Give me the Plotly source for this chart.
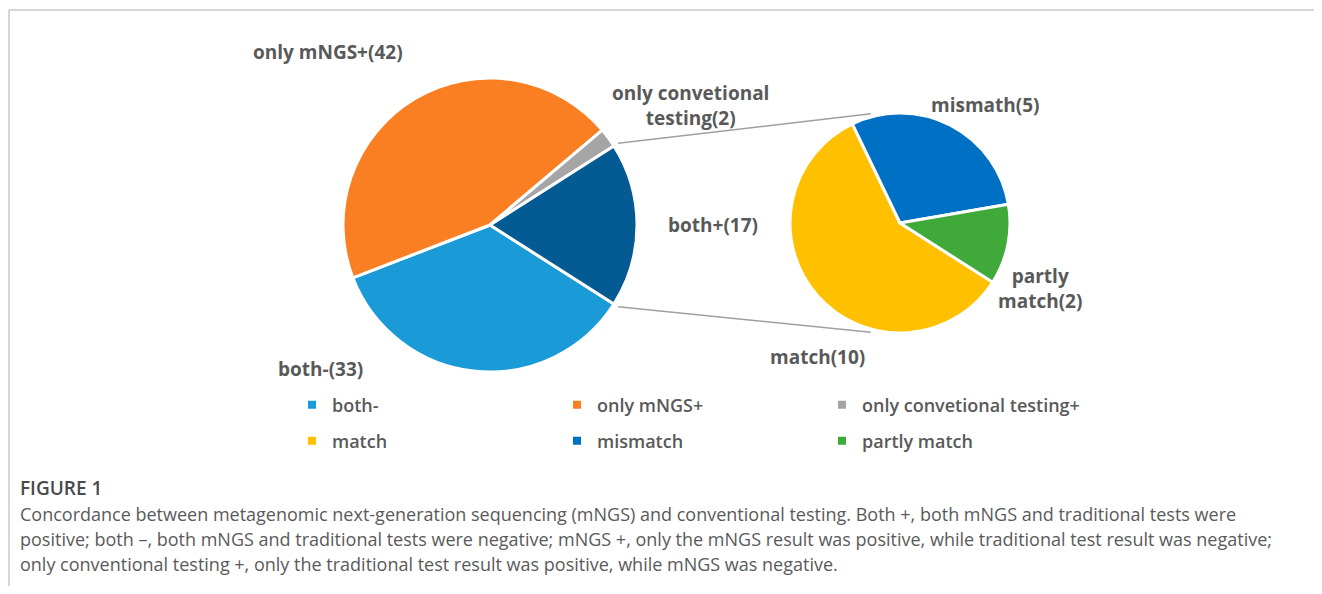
import math
import plotly.graph_objects as go

# page body has an 8px margin, so the figure is made smaller and coordinates
# are given in screenshot pixels, then shifted
OFF = 8
W, H = 1322 - 2 * OFF, 594 - 2 * OFF

# main pie
main_labels = ['both-', 'only mNGS+', 'only convetional testing+', 'both+']
main_values = [33, 42, 2, 17]
main_text = ['both-(33)', 'only mNGS+(42)', 'only convetional<br>testing(2)', 'both+(17)']
main_colors = ['#1A9BD7', '#FA7F22', '#A5A5A5', '#045A92']

# secondary pie (breakdown of both+)
sub_labels = ['match', 'mismatch', 'partly match']
sub_values = [10, 5, 2]
sub_text = ['match(10)', 'mismath(5)', 'partly<br>match(2)']
sub_colors = ['#FFC000', '#0070C4', '#3FAA3A']

caption_title = 'FIGURE 1'
caption_lines = [
    'Concordance between metagenomic next-generation sequencing (mNGS) and conventional testing. Both +, both mNGS and traditional tests were',
    'positive; both –, both mNGS and traditional tests were negative; mNGS +, only the mNGS result was positive, while traditional test result was negative;',
    'only conventional testing +, only the traditional test result was positive, while mNGS was negative.',
]


def px(x):
    return (x - OFF) / W


def py(y):
    return 1 - (y - OFF) / H


# geometry in screenshot pixels
c1, r1 = (490, 225), 147
c2, r2 = (900, 223), 110
total = sum(main_values)
half = 180 * main_values[-1] / total
rot = 90 + half

fig = go.Figure()
fig.add_trace(go.Pie(
    labels=main_labels, values=main_values, sort=False, direction='clockwise',
    rotation=rot, textinfo='none', hoverinfo='label+value', showlegend=False,
    marker=dict(colors=main_colors, line=dict(color='white', width=3)),
    domain=dict(x=[px(c1[0] - r1), px(c1[0] + r1)], y=[py(c1[1] + r1), py(c1[1] - r1)]),
))
fig.add_trace(go.Pie(
    labels=sub_labels, values=sub_values, sort=False, direction='clockwise',
    rotation=rot, textinfo='none', hoverinfo='label+value', showlegend=False,
    marker=dict(colors=sub_colors, line=dict(color='white', width=3)),
    domain=dict(x=[px(c2[0] - r2), px(c2[0] + r2)], y=[py(c2[1] + r2), py(c2[1] - r2)]),
))

# legend entries
for i, lab in enumerate(main_labels[:3]):
    fig.add_trace(go.Scatter(x=[None], y=[None], mode='markers', name=lab, legend='legend',
                             marker=dict(symbol='square', size=8, color=main_colors[i])))
for i, lab in enumerate(sub_labels):
    fig.add_trace(go.Scatter(x=[None], y=[None], mode='markers', name=lab, legend='legend2',
                             marker=dict(symbol='square', size=8, color=sub_colors[i])))

label_font = dict(family='Open Sans', size=19, color='#595959', weight='bold')
main_pos = [(320, 369), (328, 52), (690, 106), (713, 225)]
sub_pos = [(817, 357), (985, 105), (1040, 288)]
ann = []
for t, (x, y) in zip(main_text + sub_text, main_pos + sub_pos):
    ann.append(dict(x=px(x), y=py(y), xref='paper', yref='paper', text=t, showarrow=False,
                    xanchor='center', yanchor='middle', font=label_font, align='center'))

cap_font = dict(family='Open Sans', size=18, color='#5a5a5a')
ann.append(dict(x=px(18), y=py(488), xref='paper', yref='paper', xanchor='left', yanchor='middle',
                text=caption_title, showarrow=False,
                font=dict(family='Open Sans', size=19, color='#4a4a4a', weight=600)))
for k, line in enumerate(caption_lines):
    ann.append(dict(x=px(18), y=py(514 + 25 * k), xref='paper', yref='paper', xanchor='left',
                    yanchor='middle', text=line, showarrow=False, font=cap_font))

# connector lines between pies
shapes = []
ca = math.radians(105)
for s in (1, -1):
    a = math.radians(half) * s
    x0 = c1[0] + (r1 + 5) * math.cos(a)
    y0 = c1[1] - (r1 + 5) * math.sin(a)
    x1 = c2[0] + (r2 + 3) * math.cos(ca)
    y1 = c2[1] - s * (r2 + 3) * math.sin(ca)
    shapes.append(dict(type='line', xref='paper', yref='paper', x0=px(x0), y0=py(y0), x1=px(x1), y1=py(y1),
                       line=dict(color='#A0A0A0', width=1.5)))

# figure frame
shapes.append(dict(type='line', xref='paper', yref='paper', x0=px(9), y0=py(10), x1=1, y1=py(10),
                   line=dict(color='#C8C8C8', width=1.5)))
shapes.append(dict(type='line', xref='paper', yref='paper', x0=px(9), y0=py(10), x1=px(9), y1=0,
                   line=dict(color='#C8C8C8', width=1.5)))

leg_font = dict(family='Open Sans', size=18, color='#595959', weight=600)
fig.update_layout(
    width=W, height=H, margin=dict(l=0, r=0, t=0, b=0),
    paper_bgcolor='white', plot_bgcolor='white',
    xaxis=dict(visible=False), yaxis=dict(visible=False),
    annotations=ann, shapes=shapes,
    legend=dict(orientation='h', x=px(292), y=py(405), xanchor='left', yanchor='middle',
                entrywidth=220, font=leg_font, itemclick=False, bgcolor='rgba(0,0,0,0)'),
    legend2=dict(orientation='h', x=px(292), y=py(441), xanchor='left', yanchor='middle',
                 entrywidth=220, font=leg_font, itemclick=False, bgcolor='rgba(0,0,0,0)'),
)

fig.write_html('out.html')
